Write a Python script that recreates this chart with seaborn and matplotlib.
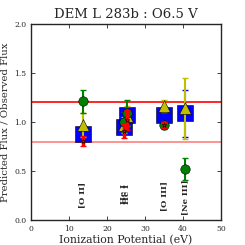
import numpy as np
import pandas as pd
import seaborn as sns
import matplotlib
matplotlib.use('Agg')
import matplotlib.pyplot as plt

# emission lines and their ionization potentials (eV)
line_names = ['[O II]', 'He I', 'He I', '[O III]', '[Ne III]']
ion_pot = [13.6, 24.5, 25.2, 35.1, 40.5]

# predicted / observed flux for each model
blue_vals = [0.88, 0.95, 1.07, 1.07, 1.09]
blue_err = [0.03, 0.04, 0.04, 0.05, 0.24]
yellow_vals = [0.97, 0.97, 1.06, 1.16, 1.14]
yellow_err = [0.12, 0.08, 0.10, 0.06, 0.31]
green_vals = [1.21, 1.00, 1.09, 0.97, 0.52]
green_err = [0.12, 0.10, 0.13, 0.04, 0.11]
red_vals = [0.81, 0.91, 1.02, 0.97, None]
red_err = [0.05, 0.07, 0.10, 0.03, None]

label_y = [0.26, 0.27, 0.27, 0.24, 0.23]

sns.set_style('ticks')
plt.rcParams['font.family'] = ['DejaVu Serif']
plt.rcParams['mathtext.fontset'] = 'dejavuserif'

fig = plt.figure(figsize=(2.45, 2.45), dpi=100)
ax = fig.add_axes([0.127, 0.102, 0.775, 0.80])

ax.axhline(1.2, color='red', lw=1.2, zorder=1)
ax.axhline(0.8, color='#ff7f7f', lw=1.2, zorder=1)

series = [
    (blue_vals, blue_err, 'blue', 's', 11, 'blue'),
    (yellow_vals, yellow_err, 'y', '^', 8.5, 'y'),
    (green_vals, green_err, 'green', 'o', 6.8, 'green'),
    (red_vals, red_err, 'red', '*', 3.5, 'red'),
]
for k, (vals, errs, col, mk, ms, ecol) in enumerate(series):
    df = pd.DataFrame({'x': ion_pot, 'y': vals, 'e': errs}).dropna()
    ax.errorbar(df['x'], df['y'], yerr=df['e'], fmt='none', ecolor=ecol,
                elinewidth=1.5 if col != 'red' else 2.5, capsize=2, zorder=2 + k)
    sns.scatterplot(data=df, x='x', y='y', marker=mk, s=ms ** 2, color=col,
                    edgecolor='black', linewidth=0.4, ax=ax, zorder=3 + k, legend=False)

for name, xv, yv in zip(line_names, ion_pot, label_y):
    ax.text(xv, yv, name, rotation=90, ha='center', va='center', fontsize=6,
            fontweight='bold')

ax.set_xlim(0, 50)
ax.set_ylim(0, 2.0)
ax.set_xticks([0, 10, 20, 30, 40, 50])
ax.set_yticks([0.0, 0.5, 1.0, 1.5, 2.0])
ax.set_yticklabels(['0.0', '0.5', '1.0', '1.5', '2.0'])
ax.tick_params(direction='in', labelsize=5.5, length=3, width=0.6, top=True, right=True)
for s in ax.spines.values():
    s.set_visible(True)
    s.set_linewidth(1.0)
ax.set_xlabel('Ionization Potential (eV)', fontsize=7.8, labelpad=1.5)
ax.set_ylabel('Predicted Flux / Observed Flux', fontsize=7.3, labelpad=3)
ax.set_title('DEM L 283b : O6.5 V', fontsize=9.5, pad=4)

fig.savefig('out.png', dpi=100)
